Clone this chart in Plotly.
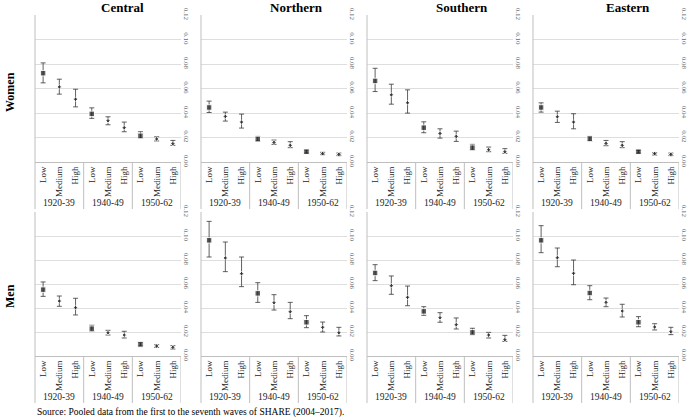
import plotly.graph_objects as go

W, H = 691, 420

regions = ["Central", "Northern", "Southern", "Eastern"]
sexes = ["Women", "Men"]
cohorts = ["1920-39", "1940-49", "1950-62"]
levels = ["Low", "Medium", "High"]

# Women: estimate, upper, lower (order: cohort x education)
women_central = [0.0725, 0.0613, 0.0513, 0.0393, 0.0337, 0.0280, 0.0214, 0.0188, 0.0150]
women_central_hi = [0.0809, 0.0676, 0.0594, 0.0442, 0.0369, 0.0326, 0.0247, 0.0206, 0.0176]
women_central_lo = [0.0646, 0.0554, 0.0450, 0.0356, 0.0304, 0.0247, 0.0193, 0.0172, 0.0136]

women_northern = [0.0445, 0.0372, 0.0326, 0.0187, 0.0160, 0.0136, 0.0084, 0.0068, 0.0062]
women_northern_hi = [0.0497, 0.0407, 0.0391, 0.0209, 0.0179, 0.0166, 0.0098, 0.0079, 0.0073]
women_northern_lo = [0.0404, 0.0334, 0.0277, 0.0171, 0.0144, 0.0117, 0.0073, 0.0060, 0.0052]

women_southern = [0.0662, 0.0548, 0.0483, 0.0280, 0.0233, 0.0209, 0.0117, 0.0100, 0.0084]
women_southern_hi = [0.0765, 0.0635, 0.0589, 0.0328, 0.0271, 0.0252, 0.0144, 0.0122, 0.0109]
women_southern_lo = [0.0575, 0.0472, 0.0399, 0.0239, 0.0195, 0.0168, 0.0098, 0.0084, 0.0071]

women_eastern = [0.0445, 0.0369, 0.0326, 0.0190, 0.0152, 0.0136, 0.0084, 0.0068, 0.0062]
women_eastern_hi = [0.0483, 0.0415, 0.0394, 0.0209, 0.0176, 0.0166, 0.0095, 0.0076, 0.0073]
women_eastern_lo = [0.0407, 0.0323, 0.0271, 0.0171, 0.0133, 0.0117, 0.0073, 0.0057, 0.0052]

# Men
men_central = [0.0553, 0.0458, 0.0403, 0.0228, 0.0194, 0.0175, 0.0097, 0.0083, 0.0072]
men_central_hi = [0.0617, 0.0500, 0.0481, 0.0256, 0.0214, 0.0206, 0.0114, 0.0094, 0.0086]
men_central_lo = [0.0497, 0.0414, 0.0342, 0.0206, 0.0175, 0.0150, 0.0083, 0.0072, 0.0058]

men_northern = [0.0964, 0.0817, 0.0686, 0.0522, 0.0444, 0.0369, 0.0281, 0.0239, 0.0194]
men_northern_hi = [0.1122, 0.0950, 0.0825, 0.0611, 0.0511, 0.0447, 0.0336, 0.0283, 0.0239]
men_northern_lo = [0.0825, 0.0703, 0.0578, 0.0447, 0.0383, 0.0311, 0.0236, 0.0200, 0.0167]

men_southern = [0.0692, 0.0586, 0.0489, 0.0372, 0.0319, 0.0261, 0.0197, 0.0175, 0.0136]
men_southern_hi = [0.0761, 0.0667, 0.0583, 0.0411, 0.0361, 0.0317, 0.0231, 0.0197, 0.0172]
men_southern_lo = [0.0628, 0.0514, 0.0419, 0.0339, 0.0281, 0.0225, 0.0178, 0.0150, 0.0122]

men_eastern = [0.0964, 0.0819, 0.0689, 0.0525, 0.0447, 0.0375, 0.0281, 0.0242, 0.0203]
men_eastern_hi = [0.1086, 0.0900, 0.0800, 0.0586, 0.0483, 0.0431, 0.0328, 0.0269, 0.0239]
men_eastern_lo = [0.0861, 0.0744, 0.0594, 0.0469, 0.0411, 0.0325, 0.0244, 0.0217, 0.0178]

y_ticks = [0.00, 0.02, 0.04, 0.06, 0.08, 0.10, 0.12]

panels = [
    (women_central, women_central_hi, women_central_lo),
    (women_northern, women_northern_hi, women_northern_lo),
    (women_southern, women_southern_hi, women_southern_lo),
    (women_eastern, women_eastern_hi, women_eastern_lo),
    (men_central, men_central_hi, men_central_lo),
    (men_northern, men_northern_hi, men_northern_lo),
    (men_southern, men_southern_hi, men_southern_lo),
    (men_eastern, men_eastern_hi, men_eastern_lo),
]

FONT = "Liberation Serif"
col_left = [35, 201, 367, 533]
col_width = 146
row_top = [15, 212]
row_bottom = [162, 356]
label_depth = 47
cohort_label_offset = 41

# category positions on the x scale: one slot per (cohort, level)
xcat_inner = [l for _ in cohorts for l in levels]
xpos = list(range(len(xcat_inner)))
nlev = len(levels)
group_centers = [g * nlev + (nlev - 1) / 2 for g in range(len(cohorts))]
group_edges = [g * nlev - 0.5 for g in range(len(cohorts) + 1)]
symbols = ["square" if l == "Low" else "diamond" for l in xcat_inner]
sizes = [5.5 if l == "Low" else 3.5 for l in xcat_inner]

fig = go.Figure()
shapes = []
annotations = []
layout_axes = {}
for i, (est, hi, lo) in enumerate(panels):
    r, c = divmod(i, 4)
    sfx = "" if i == 0 else str(i + 1)
    xa, ya = "x" + sfx, "y" + sfx
    fig.add_trace(go.Scatter(
        x=xpos, y=est, mode="markers",
        xaxis=xa, yaxis=ya, showlegend=False,
        marker=dict(symbol=symbols, size=sizes, color="#1a1a1a"),
        error_y=dict(type="data", symmetric=False,
                     array=[h - e for h, e in zip(hi, est)],
                     arrayminus=[e - l for e, l in zip(est, lo)],
                     color="#3a3a3a", thickness=0.8, width=2.5),
    ))
    x0 = col_left[c] / W
    x1 = (col_left[c] + col_width) / W
    y0 = 1 - row_bottom[r] / H
    y1 = 1 - row_top[r] / H
    layout_axes["xaxis" + sfx] = dict(
        domain=[x0, x1], anchor=ya, automargin=False,
        range=[-0.5, len(xpos) - 0.5], tickvals=xpos, ticktext=xcat_inner,
        tickangle=-90, showline=True, linecolor="#bfbfbf", linewidth=1,
        showgrid=False, zeroline=False, ticks="",
        tickfont=dict(family=FONT, size=9, color="#262626"),
    )
    layout_axes["yaxis" + sfx] = dict(
        domain=[y0, y1], anchor=xa, side="right", range=[0, 0.12], automargin=False,
        tickvals=y_ticks, tickformat=".2f", tickangle=90,
        showgrid=True, gridcolor="#dedede", gridwidth=1,
        zeroline=False, showline=False, ticks="",
        tickfont=dict(family=FONT, size=7, color="#666666"),
        ticklabelstandoff=1,
    )
    # left border of the panel, full height incl. label box
    shapes.append(dict(type="line", xref="paper", yref="paper",
                       x0=x0, x1=x0, y0=1 - (row_bottom[r] + label_depth) / H, y1=y1,
                       line=dict(color="#bfbfbf", width=1)))
    # group dividers in the label box
    for e in group_edges[1:]:
        shapes.append(dict(type="line", xref=xa, yref="paper",
                           x0=e, x1=e, y0=1 - (row_bottom[r] + label_depth) / H, y1=y0,
                           line=dict(color="#bfbfbf", width=1)))
    for g, name in enumerate(cohorts):
        annotations.append(dict(text=name, x=group_centers[g], xref=xa,
                                y=1 - (row_bottom[r] + cohort_label_offset) / H, yref="paper",
                                showarrow=False, xanchor="center", yanchor="middle",
                                font=dict(family=FONT, size=9.5, color="#262626")))

title_x = [123, 296, 462, 628]
for c, name in enumerate(regions):
    annotations.append(dict(text="<b>%s</b>" % name, x=title_x[c] / W, y=1 - 7 / H,
                            xref="paper", yref="paper", showarrow=False,
                            xanchor="center", yanchor="middle",
                            font=dict(family=FONT, size=13, color="#000000")))
row_label_y = [92, 296]
for r, name in enumerate(sexes):
    annotations.append(dict(text="<b>%s</b>" % name, x=10 / W, y=1 - row_label_y[r] / H,
                            xref="paper", yref="paper", showarrow=False, textangle=-90,
                            xanchor="center", yanchor="middle",
                            font=dict(family=FONT, size=12, color="#000000")))
annotations.append(dict(text="Source: Pooled data from the first to the seventh waves of SHARE (2004–2017).",
                        x=35 / W, y=1 - 412 / H, xref="paper", yref="paper", showarrow=False,
                        xanchor="left", yanchor="middle",
                        font=dict(family=FONT, size=9.5, color="#000000")))

fig.update_layout(
    width=W, height=H, margin=dict(l=0, r=0, t=0, b=0, pad=0, autoexpand=False),
    font=dict(family=FONT),
    paper_bgcolor="white", plot_bgcolor="white",
    shapes=shapes, annotations=annotations, **layout_axes,
)

fig.write_html("out.html", config={"displayModeBar": False},
               post_script="document.body.style.margin='0';document.body.style.padding='0';")
